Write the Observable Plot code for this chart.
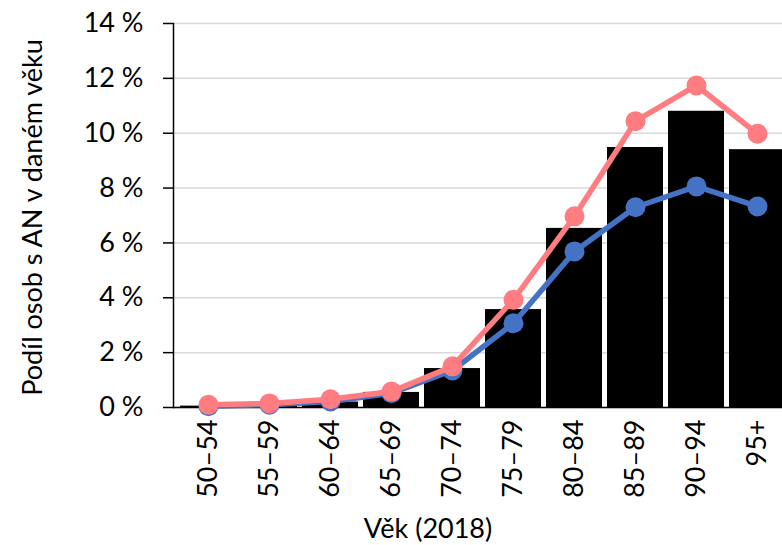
<!DOCTYPE html>
<html>
<head>
<meta charset="utf-8">
<script src="https://cdn.jsdelivr.net/npm/d3@7"></script>
<script src="https://cdn.jsdelivr.net/npm/@observablehq/plot@0.6"></script>
<style>
  html, body { margin: 0; padding: 0; background: white; overflow: hidden; }
  #chart svg { display: block; }
</style>
</head>
<body>
<div id="chart"></div>
<script>
// Age groups
const ages = ["50–54", "55–59", "60–64", "65–69", "70–74", "75–79", "80–84", "85–89", "90–94", "95+"];
// Bars (black) – share of persons with AN, %
const total = [0.05, 0.08, 0.2, 0.55, 1.42, 3.57, 6.53, 9.48, 10.8, 9.4];
// Pink line, %
const pinkSeries = [0.1, 0.15, 0.3, 0.58, 1.5, 3.93, 6.97, 10.44, 11.74, 9.98];
// Blue line, %
const blueSeries = [0.05, 0.1, 0.22, 0.52, 1.35, 3.07, 5.69, 7.3, 8.06, 7.33];
// Y ticks
const yTicks = [0, 2, 4, 6, 8, 10, 12, 14];

const barData = ages.map((a, i) => ({age: a, value: total[i]}));
const pinkData = ages.map((a, i) => ({age: a, value: pinkSeries[i]}));
const blueData = ages.map((a, i) => ({age: a, value: blueSeries[i]}));

const font = "Lato, 'Open Sans', sans-serif";

const chart = Plot.plot({
  width: 782,
  height: 545,
  marginLeft: 173,
  marginRight: 0,
  marginTop: 23,
  marginBottom: 138,
  style: {fontFamily: font, fontSize: "27px", color: "black", background: "white"},
  x: {domain: ages, range: [173, 791], paddingInner: 0.09, paddingOuter: 0.045},
  y: {domain: [0, 14]},
  marks: [
    Plot.gridY(yTicks, {stroke: "#d9d9d9", strokeOpacity: 1, strokeWidth: 1.5}),
    Plot.barY(barData, {x: "age", y: "value", fill: "black"}),
    Plot.frame({anchor: "left", stroke: "black", strokeWidth: 1.5}),
    Plot.ruleY([0], {stroke: "black", strokeWidth: 1.5}),
    Plot.axisY(yTicks, {tickSize: 10, tickPadding: 20, tickFormat: d => d + " %", label: null, fontSize: 27, strokeWidth: 1.5}),
    Plot.axisX({tickSize: 0, tickPadding: 12, tickRotate: -90, label: null, fontSize: 27}),
    Plot.line(blueData, {x: "age", y: "value", stroke: "#4472C4", strokeWidth: 5.5}),
    Plot.dot(blueData, {x: "age", y: "value", fill: "#4472C4", r: 10}),
    Plot.line(pinkData, {x: "age", y: "value", stroke: "#FF7C80", strokeWidth: 5.5}),
    Plot.dot(pinkData, {x: "age", y: "value", fill: "#FF7C80", r: 10}),
    Plot.text(["Podíl osob s AN v daném věku"], {frameAnchor: "left", textAnchor: "middle", rotate: -90, dx: -140, dy: 2, fontSize: 27, fill: "black", lineAnchor: "middle"}),
    Plot.text(["Věk (2018)"], {frameAnchor: "bottom", textAnchor: "middle", dx: -50, dy: 122, fontSize: 27, fill: "black", lineAnchor: "middle"})
  ]
});
document.getElementById("chart").appendChild(chart);
</script>
</body>
</html>
